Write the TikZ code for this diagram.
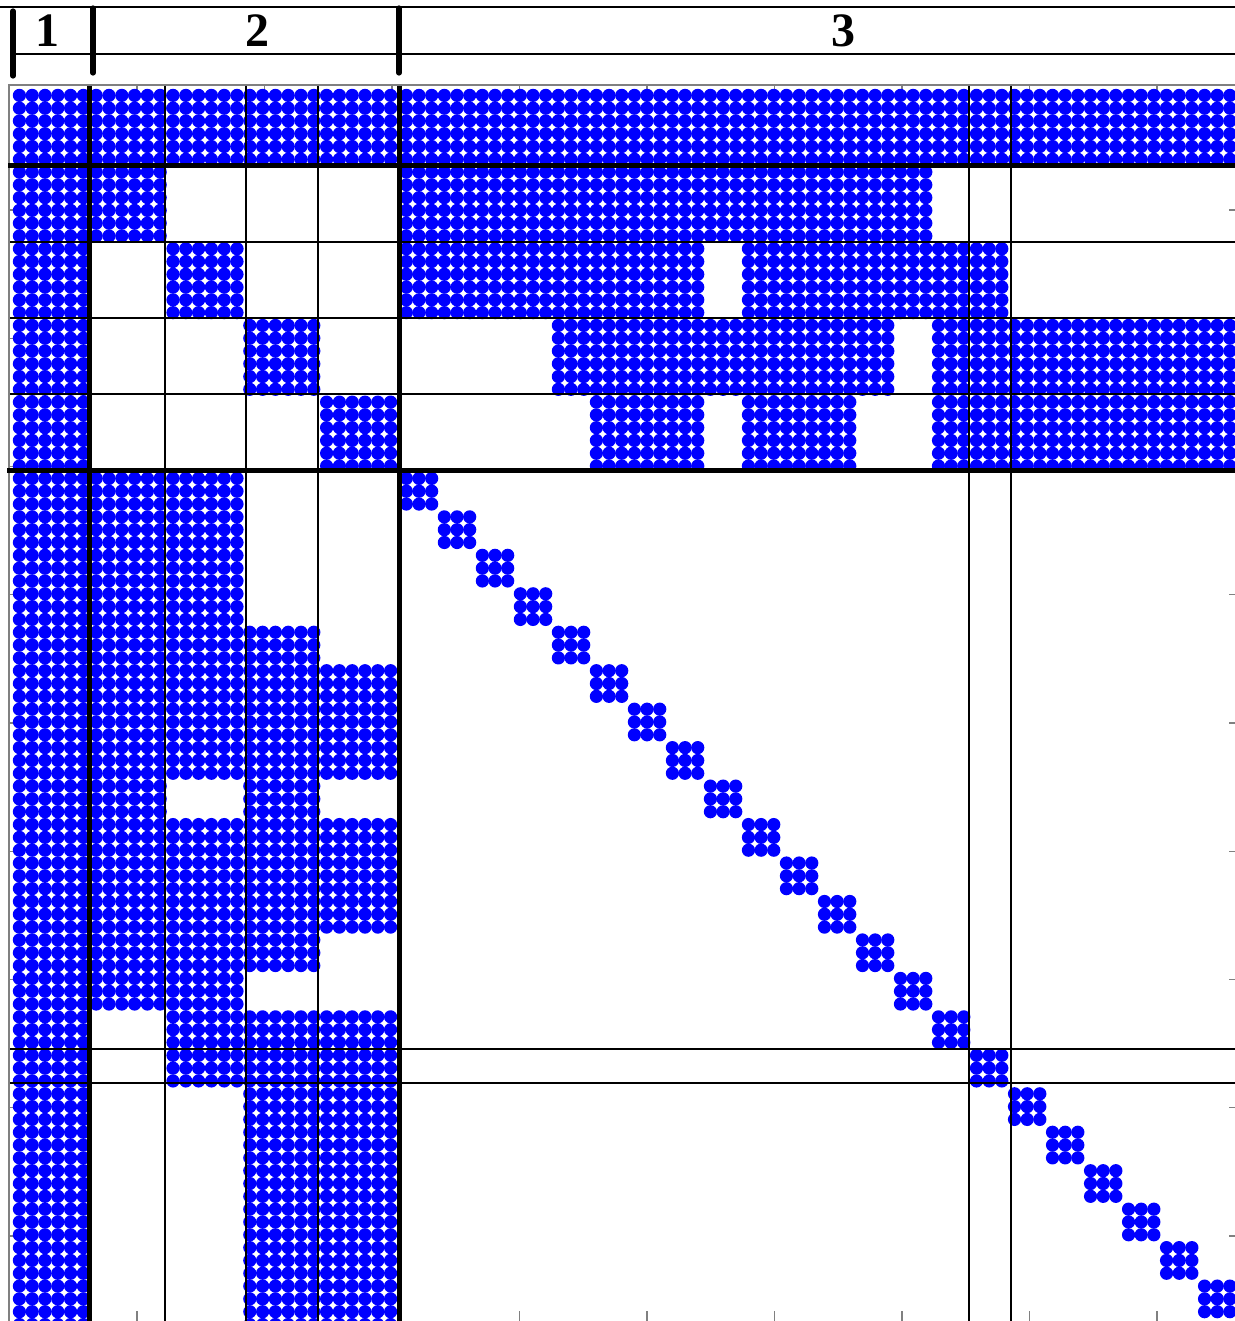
\documentclass[tikz,border=0pt]{standalone}
\usepackage{fontspec}
\setmainfont{Liberation Serif}
\definecolor{spyblue}{rgb}{0,0,1}

% one blue marker per nonzero entry, global column/row indices
\newcommand{\spydots}[4]{%
  \foreach \ci in {#1,...,#2}{%
    \foreach \ri in {#3,...,#4}{%
      \pgfmathsetmacro{\xx}{\ci<30 ? 13+12.8*(\ci+0.5) : 400+12.67*(\ci-29.5)}%
      \pgfmathsetmacro{\yy}{\ri<30 ? 89+12.78*(\ri+0.5) : 472+12.82*(\ri-29.5)}%
      \fill[spyblue] (\xx,\yy) circle[radius=6.6];
    }}}

\begin{document}
\begin{tikzpicture}[
  x=0.5pt, y=-0.5pt,
  heavyline/.style={line width=2.5pt},
  gridline/.style={line width=1.15pt},
  hdrbar/.style={line width=2.6pt, line cap=round},
  hdrlbl/.style={font=\fontsize{24}{28}\selectfont\bfseries, inner sep=0pt},
  axisframe/.style={gray, line width=0.7pt},
  tickmark/.style={gray, line width=0.6pt}
]

% Canvas
\useasboundingbox (0,0) rectangle (1235,1321);
\clip (0,0) rectangle (1235,1321);

% Header
\draw[gridline] (0,7) -- (1235,7);
\draw[gridline] (13,54) -- (1235,54);
\draw[hdrbar] (13,11) -- (13,76);
\draw[hdrbar] (93,8) -- (93,73);
\draw[hdrbar] (399,8) -- (399,73);
\node[hdrlbl] (part1) at (47,31) {1};
\node[hdrlbl] (part2) at (257,31) {2};
\node[hdrlbl] (part3) at (843,31) {3};

% Axis frame and ticks
\draw[axisframe] (1236,85) -- (9,85) -- (9,1325);
\draw[axisframe] (1236,85) -- (1236,1325);
\foreach \k in {0,...,8}{
  \pgfmathsetmacro\tx{137+127.5*\k}
  \pgfmathsetmacro\ty{210+128.25*\k}
  \draw[tickmark] (\tx,85) -- ++(0,7);
  \draw[tickmark] (\tx,1321) -- ++(0,-10);
  \draw[tickmark] (9,\ty) -- ++(7,0);
  \draw[tickmark] (1236,\ty) -- ++(-7,0);
}

% Full first block row and block column
\spydots{0}{96}{0}{5}
\spydots{0}{5}{6}{96}

% Diagonal blocks of part 2
\spydots{6}{11}{6}{11}
\spydots{12}{17}{12}{17}
\spydots{18}{23}{18}{23}
\spydots{24}{29}{24}{29}

% Coupling 2-3 (rows) and 3-2 (columns)
\spydots{30}{71}{6}{11}
\spydots{6}{11}{30}{71}
\spydots{30}{53}{12}{17}
\spydots{57}{77}{12}{17}
\spydots{12}{17}{30}{53}
\spydots{12}{17}{57}{77}
\spydots{42}{68}{18}{23}
\spydots{72}{96}{18}{23}
\spydots{18}{23}{42}{68}
\spydots{18}{23}{72}{96}
\spydots{45}{53}{24}{29}
\spydots{57}{65}{24}{29}
\spydots{72}{96}{24}{29}
\spydots{24}{29}{45}{53}
\spydots{24}{29}{57}{65}
\spydots{24}{29}{72}{96}

% Diagonal 3x3 blocks of part 3
\foreach \j in {0,...,22}{
  \pgfmathtruncatemacro\da{30+3*\j}
  \pgfmathtruncatemacro\db{\da+2}
  \spydots{\da}{\db}{\da}{\db}
}

% Thin separators
\foreach \x in {165,246,318,969,1011}
  \draw[gridline] (\x,86) -- (\x,1321);
\foreach \y in {242,318,394,1049,1083}
  \draw[gridline] (10,\y) -- (1235,\y);

% Heavy separators
\draw[heavyline] (89,86) -- (89,1321);
\draw[heavyline] (399,86) -- (399,1321);
\draw[heavyline] (8,166) -- (1235,166);
\draw[heavyline] (7,470) -- (1235,470);

\end{tikzpicture}
\end{document}
